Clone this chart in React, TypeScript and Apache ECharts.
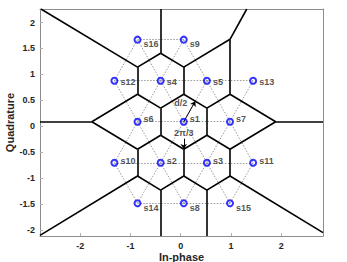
import React, { useEffect, useRef } from "react";
import * as echarts from "echarts";

// ---- data ----
const pointNames = ["s1", "s2", "s3", "s4", "s5", "s6", "s7", "s8", "s9", "s10", "s11", "s12", "s13", "s14", "s15", "s16"];
const pointX = [0.06, -0.4, 0.52, -0.4, 0.52, -0.86, 0.98, 0.06, 0.06, -1.32, 1.44, -1.32, 1.44, -0.86, 0.98, -0.86];
const pointY = [0.09, -0.7, -0.7, 0.88, 0.88, 0.09, 0.09, -1.48, 1.67, -0.7, -0.7, 0.88, 0.88, -1.48, -1.48, 1.67];
const xTicks = [-2, -1, 0, 1, 2];
const yTicks = [-2, -1.5, -1, -0.5, 0, 0.5, 1, 1.5, 2];
const xRange = [-2.8, 2.83];
const yRange = [-2.11, 2.26];
const xName = "In-phase";
const yName = "Quadrature";
const distLabel = "d/2";
const angleLabel = "2\u03c0/3";

const FONT = "'Liberation Sans', Arial, Helvetica, sans-serif";

type Seg = { coords: number[][] };

function computeVoronoi(px: number[], py: number[]): Seg[] {
  const n = px.length;
  const tris: { v: number[]; cx: number; cy: number }[] = [];
  for (let i = 0; i < n; i++)
    for (let j = i + 1; j < n; j++)
      for (let k = j + 1; k < n; k++) {
        const ax = px[i], ay = py[i], bx = px[j], by = py[j], cx = px[k], cy = py[k];
        const d = 2 * (ax * (by - cy) + bx * (cy - ay) + cx * (ay - by));
        if (Math.abs(d) < 1e-9) continue;
        const a2 = ax * ax + ay * ay, b2 = bx * bx + by * by, c2 = cx * cx + cy * cy;
        const ux = (a2 * (by - cy) + b2 * (cy - ay) + c2 * (ay - by)) / d;
        const uy = (a2 * (cx - bx) + b2 * (ax - cx) + c2 * (bx - ax)) / d;
        const r2 = (ax - ux) ** 2 + (ay - uy) ** 2;
        let ok = true;
        for (let m = 0; m < n && ok; m++) {
          if (m === i || m === j || m === k) continue;
          if ((px[m] - ux) ** 2 + (py[m] - uy) ** 2 < r2 - 1e-6) ok = false;
        }
        if (ok) tris.push({ v: [i, j, k], cx: ux, cy: uy });
      }
  const edges = new Map<string, { a: number; b: number; c: number; t: number }[]>();
  tris.forEach((t, ti) => {
    const [i, j, k] = t.v;
    const list: [number, number, number][] = [[i, j, k], [j, k, i], [i, k, j]];
    list.forEach(([a, b, c]) => {
      const key = Math.min(a, b) + "-" + Math.max(a, b);
      if (!edges.has(key)) edges.set(key, []);
      edges.get(key)!.push({ a, b, c, t: ti });
    });
  });
  const segs: Seg[] = [];
  edges.forEach((lst) => {
    if (lst.length >= 2) {
      const t1 = tris[lst[0].t], t2 = tris[lst[1].t];
      segs.push({ coords: [[t1.cx, t1.cy], [t2.cx, t2.cy]] });
    } else {
      const { a, b, c, t } = lst[0];
      const tr = tris[t];
      let nx = py[b] - py[a], ny = -(px[b] - px[a]);
      if (nx * (px[c] - px[a]) + ny * (py[c] - py[a]) > 0) { nx = -nx; ny = -ny; }
      const tx = nx > 0 ? (xRange[1] - tr.cx) / nx : nx < 0 ? (xRange[0] - tr.cx) / nx : Infinity;
      const ty = ny > 0 ? (yRange[1] - tr.cy) / ny : ny < 0 ? (yRange[0] - tr.cy) / ny : Infinity;
      const tt = Math.min(tx, ty);
      segs.push({ coords: [[tr.cx, tr.cy], [tr.cx + nx * tt, tr.cy + ny * tt]] });
    }
  });
  return segs;
}

function neighborEdges(px: number[], py: number[]): Seg[] {
  const segs: Seg[] = [];
  for (let i = 0; i < px.length; i++)
    for (let j = i + 1; j < px.length; j++) {
      const d = Math.hypot(px[i] - px[j], py[i] - py[j]);
      if (d < 1.0) segs.push({ coords: [[px[i], py[i]], [px[j], py[j]]] });
    }
  return segs;
}

function labelDy(y: number): number {
  if (y > 1.3) return 4;
  if (y > 0.5) return 1.5;
  if (y > -0.3) return -3;
  if (y > -1.1) return -2;
  return 5;
}

function buildOption() {
  const vor = computeVoronoi(pointX, pointY);
  const nb = neighborEdges(pointX, pointY);
  const i1 = pointNames.indexOf("s1"), i2 = pointNames.indexOf("s2"), i3 = pointNames.indexOf("s3"), i5 = pointNames.indexOf("s5");
  const midX = (pointX[i1] + pointX[i5]) / 2, midY = (pointY[i1] + pointY[i5]) / 2;
  const vx = (pointX[i1] + pointX[i2] + pointX[i3]) / 3, vy = (pointY[i1] + pointY[i2] + pointY[i3]) / 3;
  const arrowStartY = vy + 0.2;

  const axisLineStyle = { color: "#8c8c8c", width: 1 };
  const tickLabel = { color: "#262626", fontFamily: FONT, fontWeight: "bold" as const, fontSize: 9 };
  const nameStyle = { color: "#262626", fontFamily: FONT, fontWeight: "bold" as const, fontSize: 11 };

  return {
    animation: false,
    backgroundColor: "#ffffff",
    grid: { left: 40, right: 24, top: 9, bottom: 26, containLabel: false, outerBoundsMode: "none" },
    xAxis: [
      {
        type: "value", min: xRange[0], max: xRange[1], position: "bottom",
        name: xName, nameLocation: "middle", nameGap: 15, nameMoveOverlap: false,
        nameTextStyle: nameStyle,
        axisLine: { show: true, onZero: false, lineStyle: axisLineStyle },
        axisTick: { show: true, inside: true, length: 3, lineStyle: { color: "#b0b0b0" }, customValues: xTicks },
        axisLabel: { ...tickLabel, margin: 5, customValues: xTicks },
        splitLine: { show: false },
      },
      {
        type: "value", min: xRange[0], max: xRange[1], position: "top",
        axisLine: { show: true, onZero: false, lineStyle: axisLineStyle },
        axisTick: { show: false }, axisLabel: { show: false }, splitLine: { show: false },
      },
    ],
    yAxis: [
      {
        type: "value", min: yRange[0], max: yRange[1], position: "left",
        name: yName, nameLocation: "middle", nameGap: 25, nameMoveOverlap: false,
        nameTextStyle: nameStyle,
        axisLine: { show: true, onZero: false, lineStyle: axisLineStyle },
        axisTick: { show: true, inside: true, length: 3, lineStyle: { color: "#b0b0b0" }, customValues: yTicks },
        axisLabel: { ...tickLabel, margin: 5, customValues: yTicks },
        splitLine: { show: false },
      },
      {
        type: "value", min: yRange[0], max: yRange[1], position: "right",
        axisLine: { show: true, onZero: false, lineStyle: axisLineStyle },
        axisTick: { show: false }, axisLabel: { show: false }, splitLine: { show: false },
      },
    ],
    series: [
      {
        type: "lines", coordinateSystem: "cartesian2d", xAxisIndex: 0, yAxisIndex: 0,
        data: nb, silent: true, z: 2,
        lineStyle: { color: "#9a9a9a", width: 1, type: [1.5, 1.5], opacity: 1 },
      },
      {
        type: "lines", coordinateSystem: "cartesian2d", xAxisIndex: 0, yAxisIndex: 0,
        data: vor, silent: true, z: 3,
        lineStyle: { color: "#000000", width: 1.6, type: "solid", opacity: 1 },
      },
      {
        type: "lines", coordinateSystem: "cartesian2d", xAxisIndex: 0, yAxisIndex: 0,
        silent: true, z: 4,
        symbol: ["none", "arrow"], symbolSize: 5,
        data: [
          { coords: [[pointX[i1], pointY[i1]], [midX, midY]] },
          { coords: [[vx, arrowStartY], [vx, vy]] },
        ],
        lineStyle: { color: "#000000", width: 1, type: "solid", opacity: 1 },
      },
      {
        type: "scatter", xAxisIndex: 0, yAxisIndex: 0, z: 5,
        symbol: "circle", symbolSize: 6,
        itemStyle: { color: "rgba(255,255,255,0)", borderColor: "#0000ff", borderWidth: 2 },
        data: pointNames.map((nm, i) => ({
          name: nm, value: [pointX[i], pointY[i]],
          label: { offset: [0, labelDy(pointY[i])] },
        })),
        label: {
          show: true, position: "right", distance: 2, formatter: "{b}",
          color: "#262626", fontFamily: FONT, fontWeight: "bold", fontSize: 9,
        },
      },
      {
        type: "scatter", xAxisIndex: 0, yAxisIndex: 0, z: 6, symbolSize: 0, silent: true,
        data: [
          { name: distLabel, value: [midX, midY], label: { position: "left", distance: 8, offset: [0, 2] } },
          { name: angleLabel, value: [vx, arrowStartY], label: { position: "top", distance: 1 } },
        ],
        label: {
          show: true, formatter: "{b}", color: "#262626", fontFamily: FONT, fontWeight: "bold", fontSize: 9,
        },
      },
    ],
  };
}

export default function App() {
  const ref = useRef<HTMLDivElement>(null);
  useEffect(() => {
    document.body.style.margin = "0";
    if (!ref.current) return;
    const chart = echarts.init(ref.current, undefined, { renderer: "svg" });
    chart.setOption(buildOption() as any);
    return () => chart.dispose();
  }, []);
  return <div ref={ref} style={{ width: 347, height: 262 }} />;
}
